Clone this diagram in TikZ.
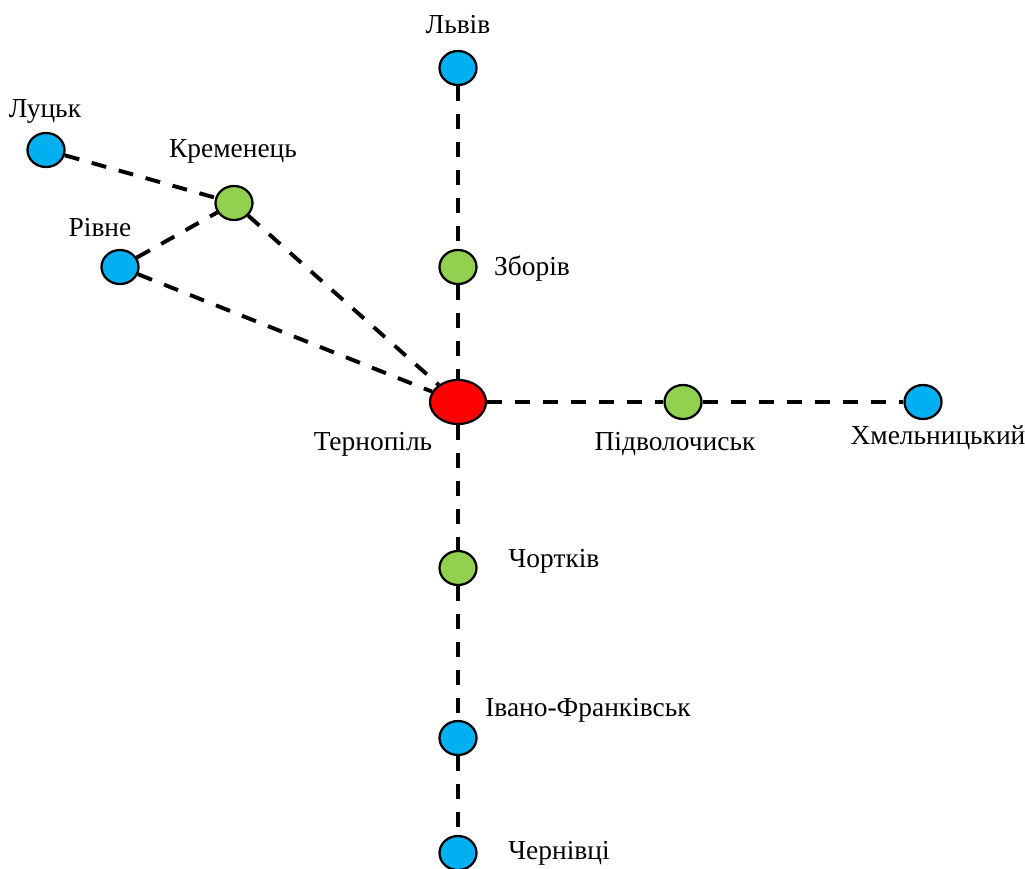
\documentclass[tikz,border=0pt]{standalone}
\usepackage{fontspec}
\setmainfont{Liberation Serif}
\usepackage{xcolor}
\definecolor{cityblue}{RGB}{0,176,240}
\definecolor{citygreen}{RGB}{146,208,80}
\definecolor{cityred}{RGB}{255,0,0}
\usetikzlibrary{shapes.geometric}

\begin{document}
\begin{tikzpicture}[
  x=0.025cm, y=-0.025cm,
  city/.style={ellipse, draw=black, line width=1.6pt, inner sep=0pt,
    minimum width=0.925cm, minimum height=0.85cm},
  major/.style={city, fill=cityblue},
  minor/.style={city, fill=citygreen},
  hub/.style={city, fill=cityred, minimum width=1.4cm, minimum height=1.1cm},
  city label/.style={anchor=base, inner sep=0pt, font=\fontsize{19.5}{22}\selectfont},
  route/.style={line width=2.8pt, dash pattern=on 10.7pt off 9.2pt},
]
\useasboundingbox (0,0) rectangle (1025,868);

% Stations
\node[hub]   (ternopil)  at (458, 402) {};
\node[major] (lviv)      at (458, 68)  {};
\node[minor] (zboriv)    at (458, 267) {};
\node[major] (lutsk)     at (46, 150)  {};
\node[minor] (kremenets) at (234, 203) {};
\node[major] (rivne)     at (120, 267) {};
\node[minor] (pidvol)    at (683, 402) {};
\node[major] (khmel)     at (923, 402) {};
\node[minor] (chortkiv)  at (458, 568) {};
\node[major] (ivfrank)   at (458, 738) {};
\node[major] (chernivtsi) at (458, 853) {};

% Routes
\draw[route] (lutsk) -- (kremenets);
\draw[route] (rivne) -- (kremenets);
\draw[route] (rivne) -- (ternopil);
\draw[route] (kremenets) -- (ternopil);
\draw[route] (lviv) -- (zboriv);
\draw[route] (zboriv) -- (ternopil);
\draw[route] (ternopil) -- (pidvol);
\draw[route] (pidvol) -- (khmel);
\draw[route] (ternopil) -- (chortkiv);
\draw[route] (chortkiv) -- (ivfrank);
\draw[route] (ivfrank) -- (chernivtsi);

% Labels
\node[city label] (lviv text)      at (458, 33)  {Львів};
\node[city label] (lutsk text)     at (45, 117)  {Луцьк};
\node[city label] (kremenets text) at (233, 157) {Кременець};
\node[city label] (rivne text)     at (100, 236) {Рівне};
\node[city label] (zboriv text)    at (532, 275) {Зборів};
\node[city label] (ternopil text)  at (373, 450) {Тернопіль};
\node[city label] (pidvol text)    at (675, 450) {Підволочиськ};
\node[city label] (khmel text)     at (938, 444) {Хмельницький};
\node[city label] (chortkiv text)  at (554, 567) {Чортків};
\node[city label] (ivfrank text)   at (588, 716) {Івано-Франківськ};
\node[city label] (chernivtsi text) at (559, 859) {Чернівці};

\end{tikzpicture}
\end{document}
